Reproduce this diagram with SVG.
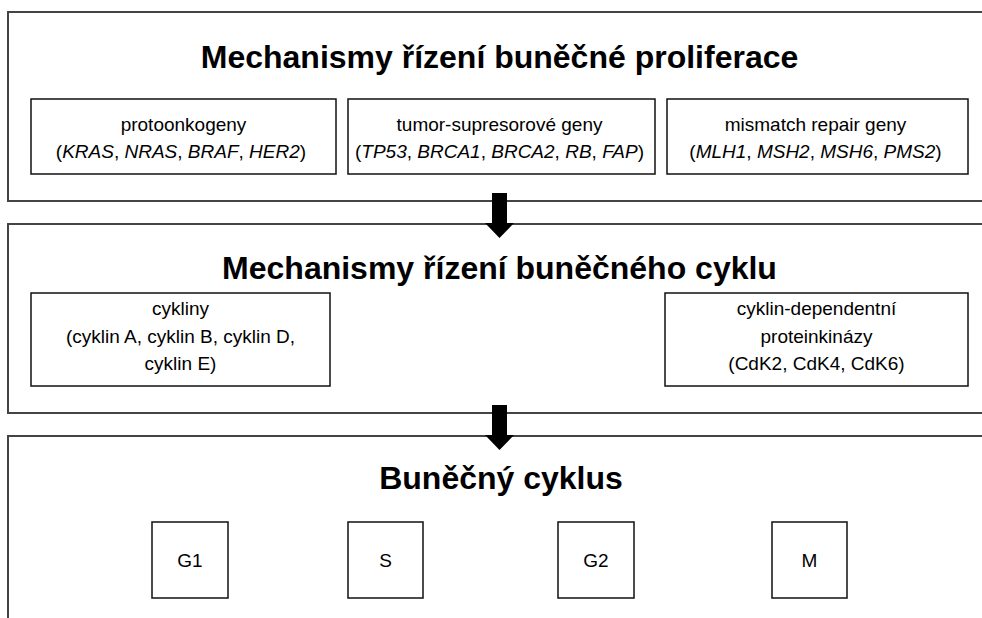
<svg xmlns="http://www.w3.org/2000/svg" width="982" height="618" viewBox="0 0 982 618">
<style>
.panel{fill:none;stroke:#444;stroke-width:2}
.box{fill:#fff;stroke:#111;stroke-width:1.5}
.title{font-family:"Liberation Sans",Arial,sans-serif;font-weight:bold;font-size:32px;text-anchor:middle;fill:#000}
.t{font-family:"Liberation Sans",Arial,sans-serif;font-size:19px;text-anchor:middle;fill:#000}
.arrow{fill:#000}
</style>
<rect width="982" height="618" fill="#fff"/>
<g id="panel1">
<rect class="panel" x="8" y="12" width="1000" height="189"/>
<text class="title" x="499.5" y="68">Mechanismy řízení buněčné proliferace</text>
</g>
<g id="proto">
<rect class="box" x="31" y="99" width="305" height="75"/>
<text class="t" x="183.5" y="131">protoonkogeny</text>
<text class="t" x="181" y="158">(<tspan font-style="italic">KRAS</tspan>, <tspan font-style="italic">NRAS</tspan>, <tspan font-style="italic">BRAF</tspan>, <tspan font-style="italic">HER2</tspan>)</text>
</g>
<g id="tumor">
<rect class="box" x="348" y="99" width="307" height="75"/>
<text class="t" x="499.5" y="131">tumor-supresorové geny</text>
<text class="t" x="499.5" y="158">(<tspan font-style="italic">TP53</tspan>, <tspan font-style="italic">BRCA1</tspan>, <tspan font-style="italic">BRCA2</tspan>, <tspan font-style="italic">RB</tspan>, <tspan font-style="italic">FAP</tspan>)</text>
</g>
<g id="mismatch">
<rect class="box" x="667" y="99" width="301" height="75"/>
<text class="t" x="815.5" y="131">mismatch repair geny</text>
<text class="t" x="815.5" y="158">(<tspan font-style="italic">MLH1</tspan>, <tspan font-style="italic">MSH2</tspan>, <tspan font-style="italic">MSH6</tspan>, <tspan font-style="italic">PMS2</tspan>)</text>
</g>
<g id="panel2">
<rect class="panel" x="8" y="224" width="1000" height="189"/>
<text class="title" x="499.5" y="279">Mechanismy řízení buněčného cyklu</text>
</g>
<g id="cykliny">
<rect class="box" x="31" y="293" width="299" height="93"/>
<text class="t" x="180.5" y="315">cykliny</text>
<text class="t" x="180.5" y="343">(cyklin A, cyklin B, cyklin D,</text>
<text class="t" x="180.5" y="370">cyklin E)</text>
</g>
<g id="cdk">
<rect class="box" x="665" y="293" width="303" height="93"/>
<text class="t" x="816.5" y="315">cyklin-dependentní</text>
<text class="t" x="816.5" y="343">proteinkinázy</text>
<text class="t" x="816.5" y="370">(CdK2, CdK4, CdK6)</text>
</g>
<g id="panel3">
<rect class="panel" x="8" y="436" width="1000" height="200"/>
<text class="title" x="501" y="489">Buněčný cyklus</text>
</g>
<g id="G1"><rect class="box" x="152" y="522" width="76" height="76"/><text class="t" x="190" y="567">G1</text></g>
<g id="S"><rect class="box" x="348" y="522" width="75" height="76"/><text class="t" x="385.5" y="567">S</text></g>
<g id="G2"><rect class="box" x="558" y="522" width="76" height="76"/><text class="t" x="596" y="567">G2</text></g>
<g id="M"><rect class="box" x="772" y="522" width="75" height="76"/><text class="t" x="809.5" y="567">M</text></g>
<g id="connectors">
<polygon class="arrow" points="492,193 507,193 507,223 514,223 499.5,238 485,223 492,223"/>
<polygon class="arrow" points="492,405 507,405 507,435 514,435 499.5,450 485,435 492,435"/>
</g>
</svg>
